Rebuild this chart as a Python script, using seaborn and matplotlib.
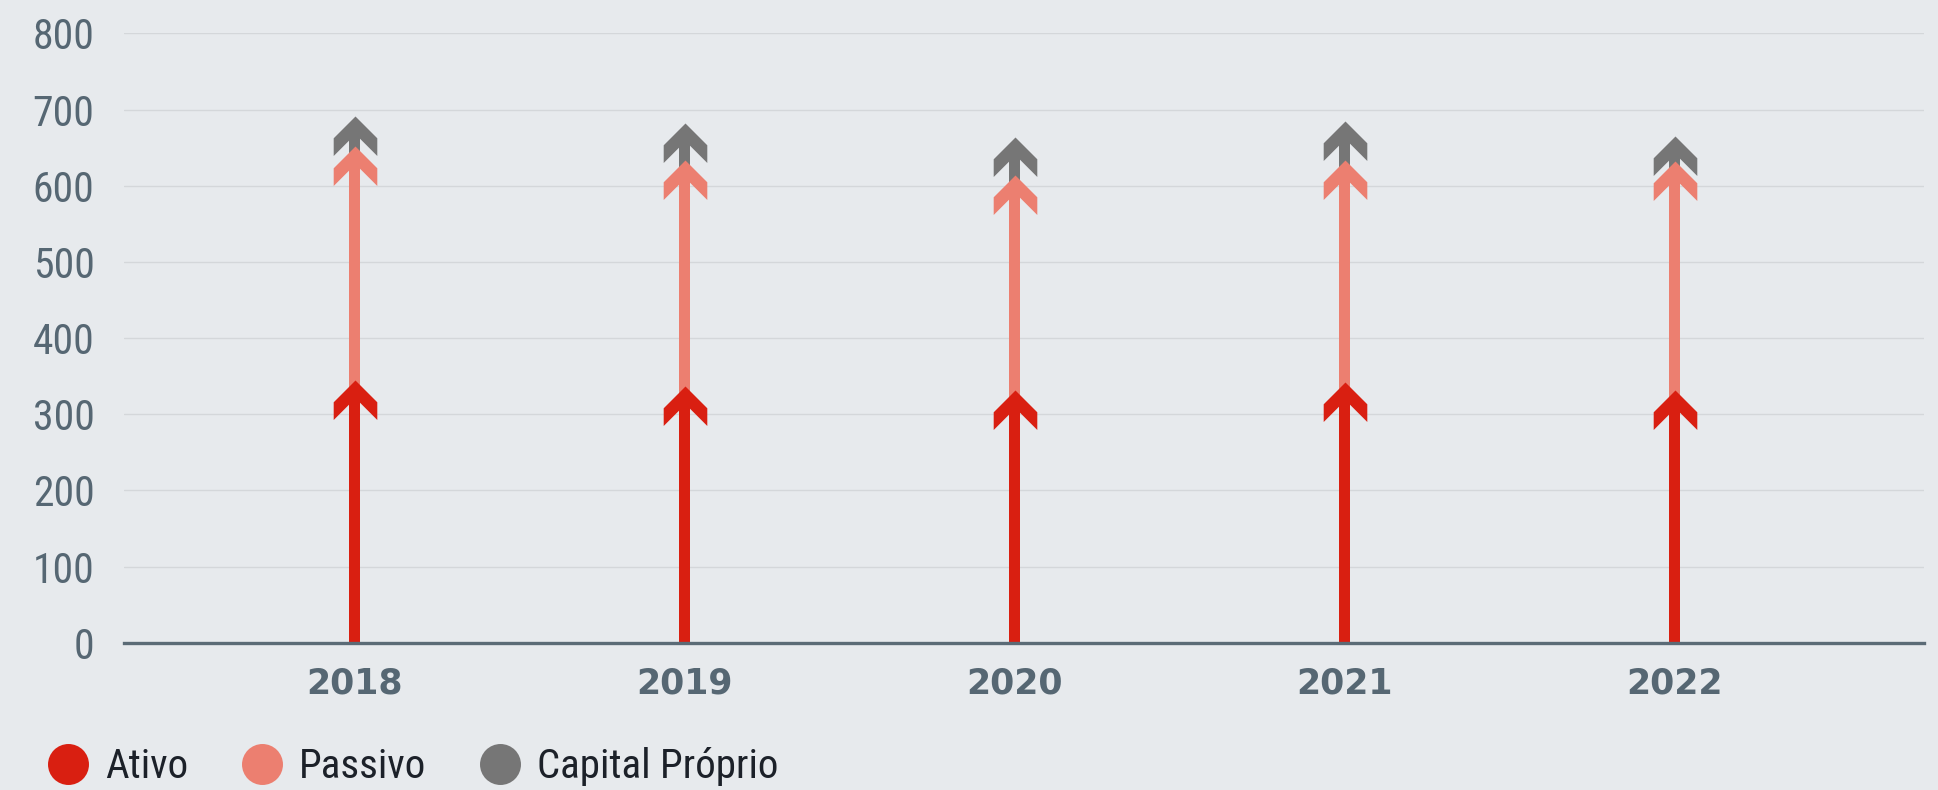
import numpy as np
import matplotlib
matplotlib.use("Agg")
import matplotlib.pyplot as plt
from matplotlib import font_manager as fm
from matplotlib.path import Path
from matplotlib.markers import MarkerStyle
from matplotlib.lines import Line2D
import seaborn as sns

# ---- data ----
years = ["2018", "2019", "2020", "2021", "2022"]
ativo = [345, 337, 332, 342, 332]
passivo = [652, 634, 614, 634, 632]
capital_proprio = [692, 682, 664, 685, 665]
series_names = ["Ativo", "Passivo", "Capital Próprio"]
y_ticks = [0, 100, 200, 300, 400, 500, 600, 700, 800]

# ---- style ----
BG = "#e7eaed"
C_ATIVO = "#d91f11"
C_PASSIVO = "#ec7f70"
C_CAPITAL = "#767676"
SLATE = "#566773"
TEXT_DARK = "#1c2129"

sns.set_style("white")


def pick_font(cands):
    for c in cands:
        try:
            fm.findfont(fm.FontProperties(family=c), fallback_to_default=False)
            return c
        except Exception:
            continue
    return "DejaVu Sans"


COND = pick_font(["Liberation Sans Narrow", "Roboto Condensed", "Open Sans Condensed", "Liberation Sans"])
plt.rcParams["font.family"] = [COND, "DejaVu Sans"]

W, H, DPI = 1938, 790, 100
fig = plt.figure(figsize=(W / DPI, H / DPI), dpi=DPI, facecolor=BG)
left_px, right_px, bottom_px, top_px = 123.6, 1924.3, 642.7, 33.4
ax = fig.add_axes([left_px / W, 1 - bottom_px / H, (right_px - left_px) / W, (bottom_px - top_px) / H])
ax.set_facecolor(BG)

ymax = 800
px_per_unit = (bottom_px - top_px) / ymax
px_per_cat = 330.0
shaft_w = 11.0 / px_per_cat
shaft_cut = 12.0 / px_per_unit

pos = np.arange(len(years))

# chevron arrowhead marker, tip at origin (pixel units)
hw, k1, k2, notch = 21.8, 21.8, 39.5, 17.7
verts = [(0, 0), (hw, -k1), (hw, -k2), (0, -notch), (-hw, -k2), (-hw, -k1), (0, 0)]
codes = [Path.MOVETO] + [Path.LINETO] * 5 + [Path.CLOSEPOLY]
chev = MarkerStyle(Path(verts, codes))
msize = 2 * k2 * 72 / DPI

layers = [(capital_proprio, C_CAPITAL, 2), (passivo, C_PASSIVO, 4), (ativo, C_ATIVO, 6)]
for vals, col, z in layers:
    vals = np.asarray(vals, dtype=float)
    sns.barplot(x=years, y=vals - shaft_cut, color=col, width=shaft_w, saturation=1,
                errorbar=None, linewidth=0, ax=ax, zorder=z)
    ax.scatter(pos, vals, marker=chev, s=msize ** 2, color=col, linewidths=0, zorder=z + 1)

ax.set_xlim(-(354.7 - left_px) / px_per_cat, 4 + (right_px - 1674.7) / px_per_cat)
ax.set_ylim(0, ymax)
ax.set_yticks(y_ticks)
ax.set_yticklabels([str(t) for t in y_ticks])
ax.set_xticks(pos)
ax.set_xticklabels(years)
ax.set_xlabel("")
ax.set_ylabel("")

ax.grid(axis="y", color="#d4d7da", linewidth=1.0, zorder=0)
ax.grid(axis="x", visible=False)
ax.set_axisbelow(True)
for s in ["left", "right", "top"]:
    ax.spines[s].set_visible(False)
ax.spines["bottom"].set_color("#5b6b76")
ax.spines["bottom"].set_linewidth(2.4)
ax.spines["bottom"].set_zorder(10)

ax.tick_params(axis="y", length=0, pad=21, labelsize=30, labelcolor=SLATE)
ax.tick_params(axis="x", length=0, pad=17, labelcolor=SLATE)
for lab in ax.get_yticklabels():
    lab.set_family([COND, "DejaVu Sans"])
for lab in ax.get_xticklabels():
    lab.set_family("DejaVu Sans")
    lab.set_fontweight("heavy")
    lab.set_fontsize(25)

handles = [Line2D([], [], marker="o", linestyle="None", markersize=29.5,
                  markerfacecolor=c, markeredgewidth=0)
           for c in (C_ATIVO, C_PASSIVO, C_CAPITAL)]
leg = fig.legend(handles, series_names, loc="center left", bbox_to_anchor=(48 / W, 1 - 767 / H),
                 ncol=3, frameon=False, fontsize=29.5, handlelength=1.0, handletextpad=0.4,
                 columnspacing=1.3, borderpad=0, borderaxespad=0)
for t in leg.get_texts():
    t.set_color(TEXT_DARK)

fig.savefig("out.png", dpi=DPI, facecolor=BG)
